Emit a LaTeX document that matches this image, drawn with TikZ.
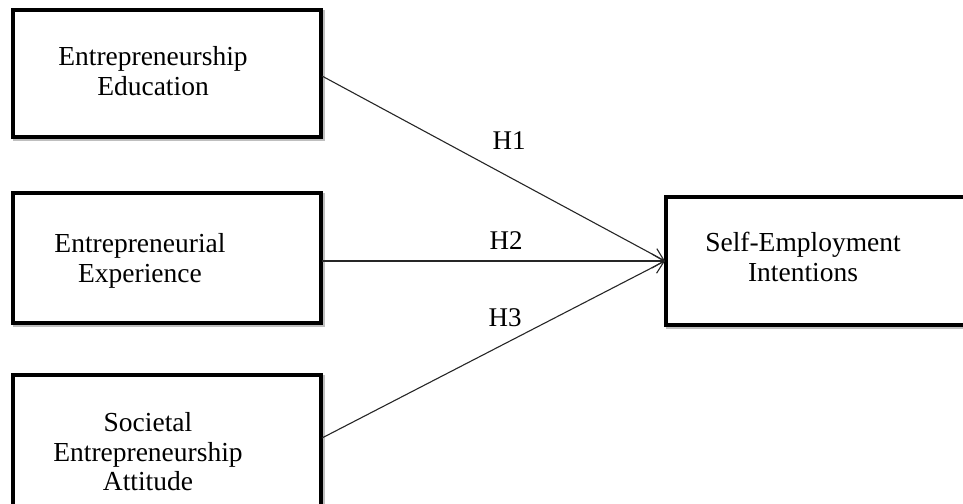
\documentclass[tikz,border=0pt]{standalone}
\usepackage{fontspec}
\setmainfont{Liberation Serif}
\usetikzlibrary{arrows.meta}
\begin{document}
\begin{tikzpicture}[x=1pt,y=-1pt,
  box/.style={draw=black,line width=4pt,fill=white},
  shade/.style={draw=black!25,line width=4pt},
  lbl/.style={font=\fontsize{27.5}{29.5}\selectfont,align=center,inner sep=0pt},
  hyp/.style={font=\fontsize{27}{30}\selectfont,inner sep=0pt},
  link/.style={line width=1.1pt,draw=black!85,-{Straight Barb[length=12pt,width=14pt,line width=1.1pt]}}]
  \useasboundingbox (0,0) rectangle (963,503);
  % soft drop shadows
  \draw[shade] (15,12) rectangle (323,139);
  \draw[shade] (15,195) rectangle (323,325);
  \draw[shade] (15,377) rectangle (323,522);
  \draw[shade] (668,199) rectangle (992,327);
  % boxes
  \draw[box] (13,10) rectangle (321,137);
  \draw[box] (13,193) rectangle (321,323);
  \draw[box] (13,375) rectangle (321,520);
  \draw[box] (666,197) rectangle (990,325);
  % texts
  \node[lbl] (edu) at (153,71) {Entrepreneurship\\Education};
  \node[lbl] (exp) at (140,261) {Entrepreneurial\\Experience};
  \node[lbl] (att) at (148,452) {Societal\\Entrepreneurship\\Attitude};
  \node[lbl] (sei) at (803,257) {Self-Employment\\Intentions};
  % anchor points on box edges
  \coordinate (a1) at (322,76);
  \coordinate (a2) at (322,261);
  \coordinate (a3) at (322,438);
  \coordinate (t) at (665,261);
  \draw[link] (a1) -- (t);
  \draw[link] (a2) -- (t);
  \draw[link] (a3) -- (t);
  \node[hyp] (h1) at (509,141) {H1};
  \node[hyp] (h2) at (506,241) {H2};
  \node[hyp] (h3) at (505,318) {H3};
\end{tikzpicture}
\end{document}
